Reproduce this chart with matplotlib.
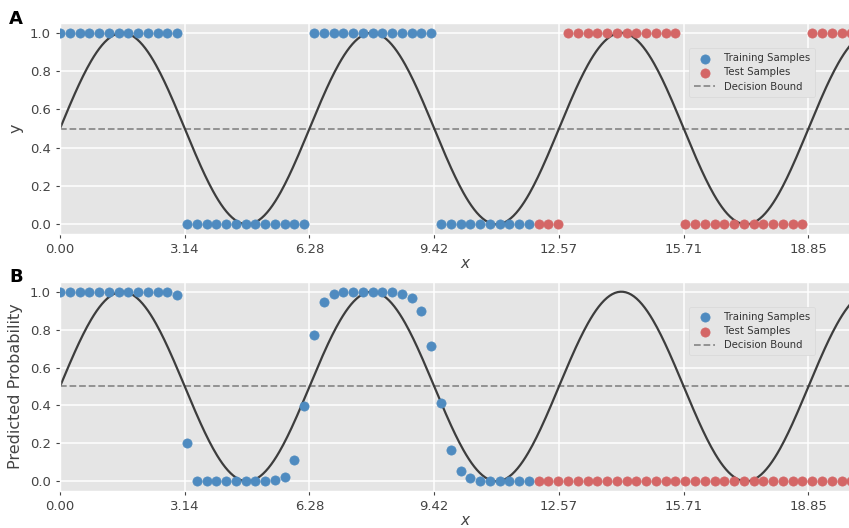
import numpy as np
import matplotlib.pyplot as plt

plt.style.use('ggplot')

# sample positions (84 evenly spaced samples over 0 .. 6.5 pi)
n_samples = 84
x_samples = np.linspace(0, 6.5 * np.pi, n_samples)
n_train = 49

# true labels (sign of the sine)
labels = [1]*13 + [0]*13 + [1]*13 + [0]*13 + [1]*12 + [0]*13 + [1]*7

# predicted probability of the training samples
pred_train = [1.0]*12 + [0.983, 0.204,
              0.0, 0.0, 0.0, 0.0, 0.0, 0.0, 0.002, 0.003,
              0.005, 0.024, 0.114, 0.396, 0.77, 0.945, 0.988,
              1.0, 1.0, 1.0, 1.0, 1.0, 0.997, 0.99, 0.969, 0.90, 0.715,
              0.412, 0.164, 0.052, 0.016, 0.003, 0.0, 0.0, 0.0, 0.0, 0.0]
# predicted probability of the test samples (all at zero)
pred_test = [0.0]*(n_samples - n_train)

# the true function behind the labels
x_curve = np.linspace(0, 6.5 * np.pi, 600)
y_curve = 0.5 + 0.5 * np.sin(x_curve)

tick_pos = np.arange(0, 7) * np.pi
tick_lab = [f'{t:.2f}' for t in tick_pos]

blue = '#4f8bc0'
red = '#d46666'

fig = plt.figure(figsize=(8.49, 5.28), dpi=100)
fig.patch.set_facecolor('white')
ax_a = fig.add_axes([0.0707, 0.557, 0.955, 0.399])
ax_b = fig.add_axes([0.0707, 0.0705, 0.955, 0.395])

panels = [
    (ax_a, labels[:n_train], labels[n_train:], 'y', 0.918),
    (ax_b, pred_train, pred_test, 'Predicted Probability', 0.428),
]

for ax, y_tr, y_te, ylab, leg_y in panels:
    ax.set_facecolor('#e5e5e5')
    ax.plot(x_curve, y_curve, color='#3d3d3d', lw=1.6, zorder=2)
    ax.scatter(x_samples[:n_train], y_tr, s=44, color=blue, label='Training Samples', zorder=3)
    ax.scatter(x_samples[n_train:], y_te, s=44, color=red, label='Test Samples', zorder=3)
    ax.axhline(0.5, color='#8c8c8c', ls='--', lw=1.3, label='Decision Bound', zorder=1)

    ax.set_xlim(0, 6.5 * np.pi)
    ax.set_ylim(-0.05, 1.05)
    ax.set_xticks(tick_pos)
    ax.set_xticklabels(tick_lab)
    ax.set_yticks([0, 0.2, 0.4, 0.6, 0.8, 1.0])
    ax.tick_params(axis='both', labelsize=9.5, colors='#444444', length=3)
    ax.set_xlabel('$x$', fontsize=11, color='#444444', labelpad=0)
    ax.set_ylabel(ylab, fontsize=11.5, color='#444444', labelpad=5)
    ax.grid(True, color='white', lw=1.1)

    # legend box placed in figure coordinates (axes runs past the right edge)
    leg = ax.legend(loc='upper left', bbox_to_anchor=(0.806, leg_y),
                    bbox_transform=fig.transFigure,
                    fontsize=7.3, frameon=True, facecolor='#e5e5e5',
                    edgecolor='#d8d8d8', framealpha=1.0,
                    handletextpad=0.9, borderpad=0.5, labelspacing=0.4)
    for t in leg.get_texts():
        t.set_color('#333333')

fig.text(0.011, 0.955, 'A', fontsize=13, fontweight='bold', color='black')
fig.text(0.011, 0.465, 'B', fontsize=13, fontweight='bold', color='black')

plt.savefig('out.png', dpi=100, facecolor='white')
